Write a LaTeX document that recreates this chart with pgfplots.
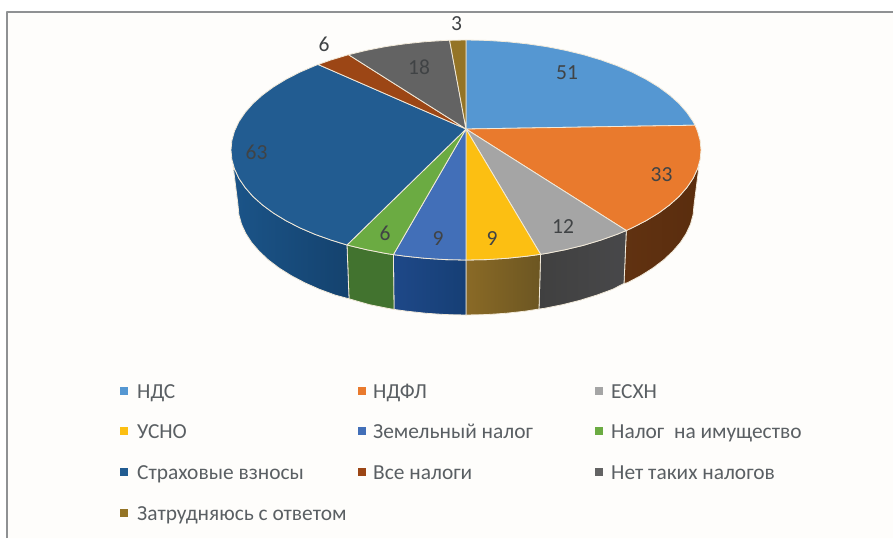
\documentclass[border=0pt]{standalone}
\usepackage{pgfplots}
\pgfplotsset{compat=1.18}
\usepackage{fontspec}
\setmainfont{Carlito}
\definecolor{cA}{HTML}{5597D2}
\definecolor{cB}{HTML}{E97A2D}
\definecolor{cC}{HTML}{A5A5A5}
\definecolor{cD}{HTML}{FCBF12}
\definecolor{cE}{HTML}{426FB8}
\definecolor{cF}{HTML}{6BAB42}
\definecolor{cG}{HTML}{225C91}
\definecolor{cH}{HTML}{9C4615}
\definecolor{cI}{HTML}{636363}
\definecolor{cJ}{HTML}{947426}
\definecolor{edge}{HTML}{F2EADA}
\definecolor{frameline}{HTML}{8F9193}
\definecolor{paper}{HTML}{FEFDFB}
\definecolor{val}{HTML}{404345}
\definecolor{leg}{HTML}{5A5F63}
\definecolor{sBl}{HTML}{5A2D0E}
\definecolor{sBr}{HTML}{613211}
\definecolor{sCl}{HTML}{48484A}
\definecolor{sCr}{HTML}{404040}
\definecolor{sDl}{HTML}{8A6A26}
\definecolor{sDr}{HTML}{6C5622}
\definecolor{sEl}{HTML}{1E4888}
\definecolor{sEm}{HTML}{2B4474}
\definecolor{sEr}{HTML}{163F75}
\definecolor{sF}{HTML}{42732F}
\definecolor{sGl}{HTML}{1B5488}
\definecolor{sGr}{HTML}{14426E}
\newcommand{\vl}[1]{{\fontsize{21.5}{21.5}\selectfont\color{val}#1}}
\newcommand{\lgd}[1]{{\fontsize{21.4}{21.4}\selectfont\color{leg}#1}}
\begin{document}
\begin{tikzpicture}
\begin{axis}[
  scale only axis, width=893pt, height=538pt,
  xmin=0, xmax=893, ymin=0, ymax=538, y dir=reverse,
  hide axis, clip=true,
  every axis plot/.append style={line join=round},
]
% page and frame
\addplot[fill=white, draw=none] coordinates {(0,0)(893,0)(893,538)(0,538)(0,0)};
\addplot[fill=paper, draw=none] coordinates {(7,12)(893,12)(893,538)(7,538)(7,12)};
\addplot[draw=frameline, line width=2pt] coordinates {(7,538)(7,12)(893,12)};

% side walls, from the rim down to the lower ellipse
\addplot[left color=sBr, right color=sBl, draw=edge, line width=0.8pt] coordinates {
(699,166)(697.4,169.1)(693,178.5)(686.8,187.6)(679,196.5)(669.5,205)(658.5,213.1)(646,220.7)(632.2,227.8)(626.3,230.5)
(624,283.5)(627.2,282.8)(640.7,275.7)(652.8,268.1)(663.5,260)(672.6,251.5)(680.3,242.6)(686.2,233.5)(690.5,224.1)(693.1,214.6)(694,205)(699,166)};
\addplot[left color=sCr, right color=sCl, draw=edge, line width=0.8pt] coordinates {
(626.3,230.5)(617.1,234.3)(600.8,240.1)(583.5,245.3)(565.3,249.7)(546.4,253.4)(540.6,254.3)
(539,309)(544,308.4)(562.4,304.7)(580,300.3)(596.8,295.1)(612.6,289.3)(624,283.5)(626.3,230.5)};
\addplot[left color=sDl, right color=sDr, draw=edge, line width=0.8pt] coordinates {
(540.6,254.3)(526.8,256.2)(506.8,258.3)(486.5,259.6)(466,260)
(466,315)(485.9,314.6)(505.6,313.3)(525,311.2)(539,309)(540.6,254.3)};
\addplot[left color=sEl, middle color=sEm, right color=sEr, draw=edge, line width=0.8pt] coordinates {
(466,260)(445.5,259.6)(425.2,258.3)(405.2,256.2)(393.4,254.6)
(394,309.4)(407,311.2)(426.4,313.3)(446.1,314.6)(466,315)(466,260)};
\addplot[fill=sF, draw=edge, line width=0.8pt] coordinates {
(393.4,254.6)(385.6,253.4)(366.7,249.7)(347,245)
(349,298.8)(369.6,304.7)(388,308.4)(394,309.4)(393.4,254.6)};
\addplot[left color=sGl, right color=sGr, draw=edge, line width=0.8pt] coordinates {
(347,245)(331.2,240.1)(314.9,234.3)(299.8,227.8)(286,220.7)(273.5,213.1)(262.5,205)(253,196.5)(245.2,187.6)(239,178.5)(234.6,169.1)(233,165)
(238,205)(238.9,214.6)(241.5,224.1)(245.8,233.5)(251.7,242.6)(259.4,251.5)(268.5,260)(279.2,268.1)(291.3,275.7)(304.8,282.8)(319.4,289.3)(335.2,295.1)(349,298.8)(347,245)};

% top wedges
\addplot[fill=cA, draw=edge, line width=0.8pt] coordinates {(466,129)(466,40)(486.5,40.4)(506.8,41.7)(526.8,43.8)(546.4,46.6)(565.3,50.3)(583.5,54.7)(600.8,59.9)(617.1,65.7)(632.2,72.2)(646,79.3)(658.5,86.9)(669.5,95)(679,103.5)(686.8,112.4)(693,121.5)(695,125.2)(466,129)};
\addplot[fill=cB, draw=edge, line width=0.8pt] coordinates {(466,129)(695,125.2)(697.4,130.9)(700.1,140.4)(701,150)(700.1,159.6)(697.4,169.1)(693,178.5)(686.8,187.6)(679,196.5)(669.5,205)(658.5,213.1)(646,220.7)(632.2,227.8)(626.3,230.5)(466,129)};
\addplot[fill=cC, draw=edge, line width=0.8pt] coordinates {(466,129)(626.3,230.5)(617.1,234.3)(600.8,240.1)(583.5,245.3)(565.3,249.7)(546.4,253.4)(540.6,254.3)(466,129)};
\addplot[fill=cD, draw=edge, line width=0.8pt] coordinates {(466,129)(540.6,254.3)(526.8,256.2)(506.8,258.3)(486.5,259.6)(466,260)(466,129)};
\addplot[fill=cE, draw=edge, line width=0.8pt] coordinates {(466,129)(466,260)(445.5,259.6)(425.2,258.3)(405.2,256.2)(393.4,254.6)(466,129)};
\addplot[fill=cF, draw=edge, line width=0.8pt] coordinates {(466,129)(393.4,254.6)(385.6,253.4)(366.7,249.7)(347,245)(466,129)};
\addplot[fill=cG, draw=edge, line width=0.8pt] coordinates {(466,129)(347,245)(331.2,240.1)(314.9,234.3)(299.8,227.8)(286,220.7)(273.5,213.1)(262.5,205)(253,196.5)(245.2,187.6)(239,178.5)(234.6,169.1)(231.9,159.6)(231,150)(231.9,140.4)(234.6,130.9)(239,121.5)(245.2,112.4)(253,103.5)(262.5,95)(273.5,86.9)(286,79.3)(299.8,72.2)(314.9,65.7)(318.1,64.5)(466,129)};
\addplot[fill=cH, draw=edge, line width=0.8pt] coordinates {(466,129)(318.1,64.5)(331.2,59.9)(348.5,54.7)(466,129)};
\addplot[fill=cI, draw=edge, line width=0.8pt] coordinates {(466,129)(348.5,54.7)(366.7,50.3)(385.6,46.6)(405.2,43.8)(425.2,41.7)(445.5,40.4)(449.6,40.3)(466,129)};
\addplot[fill=cJ, draw=edge, line width=0.8pt] coordinates {(466,129)(449.6,40.3)(466,40)(466,129)};

% value labels
\node at (axis cs:567,73) {\vl{51}};
\node at (axis cs:661.5,175) {\vl{33}};
\node at (axis cs:563,227) {\vl{12}};
\node at (axis cs:492,239) {\vl{9}};
\node at (axis cs:438,239) {\vl{9}};
\node at (axis cs:385,233) {\vl{6}};
\node at (axis cs:256.5,152) {\vl{63}};
\node at (axis cs:324,44) {\vl{6}};
\node at (axis cs:419,67) {\vl{18}};
\node at (axis cs:456.5,24) {\vl{3}};

% legend
\addplot[only marks, mark=square*, mark size=3.4pt, mark options={fill=cA, draw=cA, line width=0pt}] coordinates {(124,391)};
\addplot[only marks, mark=square*, mark size=3.4pt, mark options={fill=cB, draw=cB, line width=0pt}] coordinates {(362,391)};
\addplot[only marks, mark=square*, mark size=3.4pt, mark options={fill=cC, draw=cC, line width=0pt}] coordinates {(599,391)};
\addplot[only marks, mark=square*, mark size=3.4pt, mark options={fill=cD, draw=cD, line width=0pt}] coordinates {(124,431)};
\addplot[only marks, mark=square*, mark size=3.4pt, mark options={fill=cE, draw=cE, line width=0pt}] coordinates {(362,431)};
\addplot[only marks, mark=square*, mark size=3.4pt, mark options={fill=cF, draw=cF, line width=0pt}] coordinates {(599,431)};
\addplot[only marks, mark=square*, mark size=3.4pt, mark options={fill=cG, draw=cG, line width=0pt}] coordinates {(124,472)};
\addplot[only marks, mark=square*, mark size=3.4pt, mark options={fill=cH, draw=cH, line width=0pt}] coordinates {(362,472)};
\addplot[only marks, mark=square*, mark size=3.4pt, mark options={fill=cI, draw=cI, line width=0pt}] coordinates {(599,472)};
\addplot[only marks, mark=square*, mark size=3.4pt, mark options={fill=cJ, draw=cJ, line width=0pt}] coordinates {(124,513)};
\node[anchor=base west, inner sep=0pt] at (axis cs:137,398) {\lgd{НДС}};
\node[anchor=base west, inner sep=0pt] at (axis cs:373,398) {\lgd{НДФЛ}};
\node[anchor=base west, inner sep=0pt] at (axis cs:611,398) {\lgd{ЕСХН}};
\node[anchor=base west, inner sep=0pt] at (axis cs:137,438) {\lgd{УСНО}};
\node[anchor=base west, inner sep=0pt] at (axis cs:373,438) {\lgd{Земельный налог}};
\node[anchor=base west, inner sep=0pt] at (axis cs:611,438) {\lgd{Налог\ \ на имущество}};
\node[anchor=base west, inner sep=0pt] at (axis cs:137,479) {\lgd{Страховые взносы}};
\node[anchor=base west, inner sep=0pt] at (axis cs:373,479) {\lgd{Все налоги}};
\node[anchor=base west, inner sep=0pt] at (axis cs:611,479) {\lgd{Нет таких налогов}};
\node[anchor=base west, inner sep=0pt] at (axis cs:137,520) {\lgd{Затрудняюсь с ответом}};
\end{axis}
\end{tikzpicture}
\end{document}
